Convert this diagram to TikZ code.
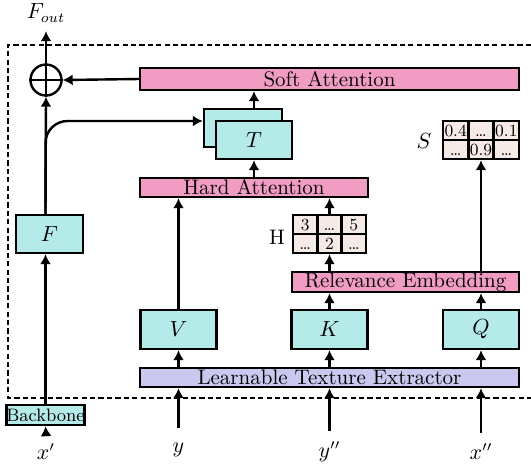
\documentclass[tikz,border=0pt]{standalone}
\usepackage{fontspec}
\usetikzlibrary{arrows.meta}
\definecolor{pinkfill}{RGB}{241,156,194}
\definecolor{cyanfill}{RGB}{180,234,232}
\definecolor{lavfill}{RGB}{202,200,238}
\definecolor{cellfill}{RGB}{246,234,230}
\begin{document}
\begin{tikzpicture}[x=0.5pt,y=-0.5pt,
  every node/.style={font=\fontsize{10.5}{12}\selectfont},
  blk/.style={draw, line width=1.2pt, inner sep=0pt},
  pinkbox/.style={blk, fill=pinkfill},
  cyanbox/.style={blk, fill=cyanfill},
  lavbox/.style={blk, fill=lavfill},
  gridbox/.style={blk, fill=cellfill, minimum width=#1, minimum height=19pt},
  entry/.style={inner sep=0pt, text height=5.6pt, text depth=0pt, font=\fontsize{8.5}{10}\selectfont},
  arr/.style={line width=1.2pt, -{Latex[length=5pt,width=5.5pt]}},
  plain/.style={line width=1.2pt},
  frame/.style={line width=1pt, dash pattern=on 2.6pt off 1.6pt}]
\useasboundingbox (0,0) rectangle (531,463);

% dashed frame around the transfer module
\draw[frame] (531,45) -- (8,45) -- (8,397.5) -- (531,397.5);

% blocks
\node[pinkbox, minimum width=189.5pt, minimum height=11pt] (SA) at (329.5,79) {Soft Attention};
\node[cyanbox, minimum width=39pt, minimum height=19pt] (Tb) at (243,128) {};
\node[cyanbox, minimum width=38pt, minimum height=19pt] (Tf) at (254,140) {$T$};
\node[pinkbox, minimum width=114pt, minimum height=9.5pt] (HA) at (254,187.5) {Hard Attention};
\node[pinkbox, minimum width=113.5pt, minimum height=10pt] (RE) at (405.5,282) {Relevance Embedding};
\node[cyanbox, minimum width=38pt, minimum height=19.5pt] (V) at (178.5,329.5) {$V$};
\node[cyanbox, minimum width=38pt, minimum height=19.5pt] (K) at (329.5,329.5) {$K$};
\node[cyanbox, minimum width=38pt, minimum height=19.5pt] (Q) at (481,329.5) {$Q$};
\node[lavbox, minimum width=189.5pt, minimum height=9.5pt] (LTE) at (329.5,377.5) {Learnable Texture Extractor};
\node[cyanbox, minimum width=33.5pt, minimum height=19pt] (F) at (49.5,234) {$F$};
\node[cyanbox, minimum width=37.5pt, minimum height=10pt, font=\small] (bb) at (45.5,415) {Backbone};
\node[draw, circle, line width=1.2pt, minimum size=15.5pt, inner sep=0pt] (plus) at (46,80) {};
\draw[plain] (plus.north) -- (plus.south) (plus.west) -- (plus.east);

% similarity grid S (2 x 3)
\node[gridbox=38pt] (Smat) at (481,140) {};
\draw[plain] (468.33,121) -- (468.33,159) (493.67,121) -- (493.67,159) (443,140) -- (519,140);
\node[entry] (s11) at (455.67,130.5) {0.4};
\node[entry] (s12) at (481,130.5) {\ldots};
\node[entry] (s13) at (506.33,130.5) {0.1};
\node[entry] (s21) at (455.67,149.5) {\ldots};
\node[entry] (s22) at (481,149.5) {0.9};
\node[entry] (s23) at (506.33,149.5) {\ldots};
\node (Slab) at (424,141) {$S$};

% index grid H (2 x 3)
\node[gridbox=36.5pt] (Hmat) at (329.5,234) {};
\draw[plain] (317.33,215) -- (317.33,253) (341.67,215) -- (341.67,253) (293,234) -- (366,234);
\node[entry] (h11) at (305.17,224.5) {3};
\node[entry] (h12) at (329.5,224.5) {\ldots};
\node[entry] (h13) at (353.83,224.5) {5};
\node[entry] (h21) at (305.17,243.5) {\ldots};
\node[entry] (h22) at (329.5,243.5) {2};
\node[entry] (h23) at (353.83,243.5) {\ldots};
\node (Hlab) at (277,237) {H};

% labels
\node (Fout) at (46,13) {$F_{out}$};
\node (xp) at (46,452) {$x'$};
\node (yin) at (178.5,450) {$y$};
\node (ypp) at (329.5,452) {$y''$};
\node (xpp) at (481,452) {$x''$};

% connectors
\draw[arr] (xp.north) ++(0,-2) -- (bb.south);
\draw[arr] ([yshift=4pt]yin.north) -- (yin.north |- LTE.south);
\draw[arr] ([yshift=2pt]ypp.north) -- (ypp.north |- LTE.south);
\draw[arr] ([yshift=2pt]xpp.north) -- (xpp.north |- LTE.south);
\draw[arr] (LTE.north -| V) -- (V.south);
\draw[arr] (LTE.north -| K) -- (K.south);
\draw[arr] (LTE.north -| Q) -- (Q.south);
\draw[arr] (V.north) -- (V.north |- HA.south);
\draw[arr] (K.north) -- (K.north |- RE.south);
\draw[arr] (Q.north) -- (Q.north |- RE.south);
\draw[arr] (RE.north -| Hmat) -- (Hmat.south);
\draw[arr] (Hmat.north) -- (Hmat.north |- HA.south);
\draw[arr] (RE.north -| Smat) -- (Smat.south);
\draw[arr] (HA.north -| Tf) -- (Tf.south);
\draw[arr] (Tb.north -| Tf) -- (Tf.north |- SA.south);
\draw[arr] (SA.west) -- (plus.east);
\draw[arr] (bb.north) -- (bb.north |- F.south);
\draw[arr] (bb.north |- F.north) -- (plus.south);
\draw[arr, rounded corners=11pt] (bb.north |- F.north) |- ([yshift=3.5pt]Tb.west);
\draw[arr] (plus.north) -- ([yshift=-1pt]Fout.south);
\end{tikzpicture}
\end{document}
